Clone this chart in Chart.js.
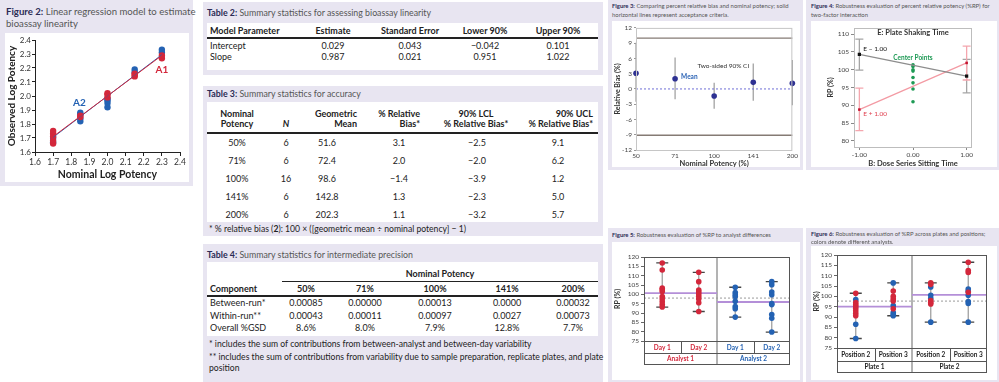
<!DOCTYPE html>
<html>
<head>
<meta charset="utf-8">
<title>Bioassay validation summary</title>
<script src="https://cdn.jsdelivr.net/npm/chart.js@4.4.1/dist/chart.umd.min.js"></script>
<style>
  body { margin: 0; width: 999px; height: 382px; position: relative; overflow: hidden; background: #fff; font-family: Lato, "Open Sans", sans-serif; color: #222; }
  .panel { position: absolute; background: #e8e5f1; }
  .box { position: absolute; background: #fff; }
  .t { position: absolute; white-space: nowrap; line-height: 1.15; }
  .rule { position: absolute; background: #222; }
  canvas { position: absolute; }
</style>
</head>
<body>
<div class="panel" style="left:0;top:0;width:193px;height:186px"></div>
<div class="box" style="left:5px;top:33px;width:184px;height:149px"></div>
<div class="panel" style="left:203px;top:2px;width:400px;height:73px"></div>
<div class="box" style="left:207px;top:23px;width:391px;height:47px"></div>
<div class="panel" style="left:203px;top:86px;width:400px;height:150px"></div>
<div class="box" style="left:207px;top:102px;width:391px;height:120px"></div>
<div class="panel" style="left:203px;top:244px;width:400px;height:138px"></div>
<div class="box" style="left:207px;top:262px;width:391px;height:74px"></div>
<div class="panel" style="left:608px;top:0;width:195px;height:170px"></div>
<div class="box" style="left:612px;top:21px;width:188px;height:146px"></div>
<div class="panel" style="left:806px;top:0;width:193px;height:170px"></div>
<div class="box" style="left:811px;top:21px;width:186px;height:146px"></div>
<div class="panel" style="left:608px;top:228px;width:195px;height:154px"></div>
<div class="box" style="left:612px;top:242px;width:188px;height:138px"></div>
<div class="panel" style="left:806px;top:228px;width:193px;height:154px"></div>
<div class="box" style="left:811px;top:246px;width:186px;height:134px"></div>

<div class="rule" style="left:207px;top:37px;width:391px;height:1.5px"></div>
<div class="rule" style="left:207px;top:132px;width:391px;height:1.5px"></div>
<div class="rule" style="left:282px;top:281px;width:316px;height:1px"></div>
<div class="rule" style="left:207px;top:295px;width:391px;height:1.5px"></div>

<canvas id="fig2" width="182" height="150" style="left:6px;top:33px"></canvas>
<canvas id="fig3" width="188" height="148" style="left:612px;top:22px"></canvas>
<canvas id="fig4" width="186" height="148" style="left:811px;top:22px"></canvas>
<canvas id="fig5" width="188" height="136" style="left:612px;top:244px"></canvas>
<canvas id="fig6" width="186" height="136" style="left:811px;top:244px"></canvas>

<script>
// ---- data ----
// Figure 2: observed vs nominal log potency, two analysts
const logPotency = [1.7, 1.85, 2.0, 2.15, 2.3];
const a1Obs = [[1.66, 1.68, 1.71, 1.73, 1.75], [1.85, 1.86], [1.99, 2.01, 2.02], [2.14, 2.15, 2.16], [2.27, 2.29]];
const a2Obs = [[1.67, 1.70], [1.82, 1.84, 1.87, 1.88], [1.92, 1.95, 1.97, 1.98], [2.17, 2.19], [2.31, 2.33]];
const fitX = [1.7, 2.3];
const a1Fit = [1.71, 2.29];
const a2Fit = [1.705, 2.295];

// Figure 3: relative bias by nominal potency
const potencyPct = ['50', '71', '100', '141', '200'];
const meanBias = [3.1, 2.0, -1.4, 1.3, 1.1];
const lclBias = [-2.5, -2.0, -3.9, -2.3, -3.2];
const uclBias = [9.1, 6.2, 1.2, 5.0, 5.7];
const acceptHi = 10;
const acceptLo = -9.1;
const biasTicks = [-12, -9, -6, -3, 0, 3, 6, 9, 12];

// Figure 4: two-factor interaction
const doseLevels = [-1, 1];
const doseTicks = [-1, 0, 1];
const eMinusRP = [104.3, 98.2];
const eMinusLo = [99.9, 93.5];
const eMinusHi = [108.6, 102.9];
const ePlusRP = [88.8, 101.9];
const ePlusLo = [82.9, 97.1];
const ePlusHi = [94.8, 106.6];
const centerRP = [101.4, 100.9, 100.0, 99.6, 97.8, 96.3, 94.6, 91.0];
const rpTicks4 = [80, 85, 90, 95, 100, 105, 110];

// Figure 5: analyst / day
const f5Days = ['Day 1', 'Day 2', 'Day 1', 'Day 2'];
const f5Analysts = ['Analyst 1', 'Analyst 2'];
const f5Red = [[116.8, 113.0, 103.3, 102.5, 101.5, 98.8, 97.5, 96.0, 94.5, 93.2],
               [111.8, 106.8, 102.3, 101.3, 100.2, 99.0, 97.5, 95.5, 90.8], [], []];
const f5Blue = [[], [], [103.8, 101.0, 99.8, 98.8, 96.3, 93.5, 92.3, 87.8],
                [106.8, 105.2, 101.2, 99.8, 95.0, 94.5, 89.2, 87.2, 79.8]];
const f5Means = [100.6, 95.9];
const f5Overall = 98.0;

// Figure 6: plate / position
const f6Positions = ['Position 2', 'Position 3', 'Position 2', 'Position 3'];
const f6Plates = ['Plate 1', 'Plate 2'];
const f6Red = [[101.5, 97.0, 96.0, 95.2, 94.2, 93.0, 91.8, 90.6], [102.6, 100.0, 98.8, 97.8, 94.0],
               [106.5, 105.8, 98.0, 97.0, 96.3], [116.5, 112.5, 111.5, 102.0]];
const f6Blue = [[98.5, 86.5, 79.6], [106.5, 95.5, 92.2, 91.2, 90.6],
                [104.5, 100.5, 99.0, 87.5], [103.5, 102.5, 100.5, 97.5, 96.5, 87.5]];
const f6Means = [95.0, 100.7];
const f6Overall = 97.7;
const rpTicks = [75, 80, 85, 90, 95, 100, 105, 110, 115, 120];

// Tables
const t2Head = ['Model Parameter', 'Estimate', 'Standard Error', 'Lower 90%', 'Upper 90%'];
const t2Rows = [['Intercept', '0.029', '0.043', '\u22120.042', '0.101'],
                ['Slope', '0.987', '0.021', '0.951', '1.022']];
const t3Head = ['Nominal<br>Potency', '<br><i>N</i>', 'Geometric<br>Mean', '% Relative<br>Bias*', '90% LCL<br>% Relative Bias*', '90% UCL<br>% Relative Bias*'];
const t3Rows = [['50%', '6', '51.6', '3.1', '\u22122.5', '9.1'],
                ['71%', '6', '72.4', '2.0', '\u22122.0', '6.2'],
                ['100%', '16', '98.6', '\u22121.4', '\u22123.9', '1.2'],
                ['141%', '6', '142.8', '1.3', '\u22122.3', '5.0'],
                ['200%', '6', '202.3', '1.1', '\u22123.2', '5.7']];
const t4Head = ['Component', '50%', '71%', '100%', '141%', '200%'];
const t4Rows = [['Between-run*', '0.00085', '0.00000', '0.00013', '0.0000', '0.00032'],
                ['Within-run**', '0.00043', '0.00011', '0.00097', '0.0027', '0.00073'],
                ['Overall %GSD', '8.6%', '8.0%', '7.9%', '12.8%', '7.7%']];

const RED = '#d3273b';
const BLUE = '#2462b3';

// ---- text helper ----
function put(x, y, html, size, opt = {}) {
  const d = document.createElement('div');
  d.className = 't';
  d.innerHTML = html;
  d.style.left = x + 'px';
  d.style.top = y + 'px';
  d.style.fontSize = size + 'px';
  if (opt.bold) d.style.fontWeight = 'bold';
  d.style.color = opt.color || '#222';
  if (opt.ta) d.style.textAlign = opt.ta;
  const tx = opt.align === 'c' ? '-50%' : opt.align === 'r' ? '-100%' : '0';
  d.style.transform = 'translate(' + tx + ', -50%)';
  document.body.appendChild(d);
}
const lab = s => '<b style="color:#2b2b55">' + s + '</b> ';

// titles
put(6, 12, lab('Figure 2:') + 'Linear regression model to estimate', 9.6, { color: '#555' });
put(6, 23.5, 'bioassay linearity', 9.6, { color: '#555' });
put(207, 13, lab('Table 2:') + 'Summary statistics for assessing bioassay linearity', 8.8, { color: '#555' });
put(207, 94, lab('Table 3:') + 'Summary statistics for accuracy', 8.8, { color: '#555' });
put(207, 255, lab('Table 4:') + 'Summary statistics for intermediate precision', 8.8, { color: '#555' });
put(612, 6, lab('Figure 3:') + 'Comparing percent relative bias and nominal potency; solid', 5.9, { color: '#555' });
put(612, 14.5, 'horizontal lines represent acceptance criteria.', 5.9, { color: '#555' });
put(811, 6, lab('Figure 4:') + 'Robustness evaluation of percent relative potency (%RP) for', 5.9, { color: '#555' });
put(811, 14.5, 'two-factor interaction', 5.9, { color: '#555' });
put(612, 234.5, lab('Figure 5:') + 'Robustness evaluation of %RP to analyst differences', 5.9, { color: '#555' });
put(811, 234, lab('Figure 6:') + 'Robustness evaluation of %RP across plates and positions;', 5.9, { color: '#555' });
put(811, 242, 'colors denote different analysts.', 5.9, { color: '#555' });

// table 2
const t2X = [210, 333, 410, 485, 558];
t2Head.forEach((h, i) => put(t2X[i], 31, h, 9, { bold: true, align: i ? 'c' : 'l' }));
t2Rows.forEach((r, j) => r.forEach((v, i) => put(t2X[i], 46 + j * 10.5, v, 9, { align: i ? 'c' : 'l' })));

// table 3
const t3X = [237, 286, 357, 420, 476, 593];
const t3A = ['c', 'c', 'r', 'r', 'c', 'r'];
const t3V = [237, 286, 327, 399, 477, 558];
t3Head.forEach((h, i) => put(t3X[i], 119, h, 9, { bold: true, align: t3A[i], ta: t3A[i] === 'r' ? 'right' : 'center' }));
t3Rows.forEach((r, j) => r.forEach((v, i) => put(t3V[i], 143 + j * 18, v, 9, { align: 'c' })));
put(209, 229.5, '* % relative bias (<b>2</b>): 100 \u00d7 ([geometric mean \u00f7 nominal potency] \u2212 1)', 8.6);

// table 4
const t4X = [210, 306, 365, 435, 507, 573];
put(440, 274, 'Nominal Potency', 9, { bold: true, align: 'c' });
t4Head.forEach((h, i) => put(t4X[i], 289, h, 9, { bold: true, align: i ? 'c' : 'l' }));
t4Rows.forEach((r, j) => r.forEach((v, i) => put(t4X[i], 303 + j * 12.5, v, 9, { align: i ? 'c' : 'l' })));
put(209, 345, '* includes the sum of contributions from between-analyst and between-day variability', 8.6);
put(209, 358, '** includes the sum of contributions from variability due to sample preparation, replicate plates, and plate', 8.6);
put(209, 369, 'position', 8.6);

// ---- charts ----
Chart.defaults.font.family = 'Lato, sans-serif';
Chart.defaults.color = '#333';
Chart.defaults.animation = false;
Chart.defaults.responsive = false;
Chart.defaults.devicePixelRatio = 1;
Chart.defaults.plugins.legend.display = false;
Chart.defaults.plugins.tooltip.enabled = false;

const toPoints = (xs, ys) => xs.flatMap((x, i) => ys[i].map(y => ({ x, y })));
const setTicks = vals => s => { s.ticks = vals.map(v => ({ value: v })); };

function label(chart, x, y, text, font, color, align) {
  const ctx = chart.ctx;
  ctx.save();
  ctx.font = font;
  ctx.fillStyle = color;
  ctx.textAlign = align || 'center';
  ctx.textBaseline = 'middle';
  ctx.fillText(text, x, y);
  ctx.restore();
}

function errBar(chart, x, lo, hi, color, cap) {
  const ctx = chart.ctx, ys = chart.scales.y;
  const y1 = ys.getPixelForValue(lo), y2 = ys.getPixelForValue(hi);
  ctx.save();
  ctx.strokeStyle = color;
  ctx.lineWidth = 1.3;
  ctx.beginPath();
  ctx.moveTo(x, y1); ctx.lineTo(x, y2);
  if (cap) {
    ctx.moveTo(x - cap, y1); ctx.lineTo(x + cap, y1);
    ctx.moveTo(x - cap, y2); ctx.lineTo(x + cap, y2);
  }
  ctx.stroke();
  ctx.restore();
}

function frame(color) {
  return {
    id: 'frame',
    afterDatasetsDraw(chart) {
      const a = chart.chartArea, ctx = chart.ctx;
      ctx.save();
      ctx.strokeStyle = color;
      ctx.lineWidth = 1;
      ctx.strokeRect(a.left + 0.5, a.top + 0.5, a.right - a.left - 1, a.bottom - a.top);
      ctx.restore();
    }
  };
}

// Figure 2
new Chart(document.getElementById('fig2'), {
  type: 'scatter',
  data: {
    datasets: [
      { type: 'line', data: fitX.map((x, i) => ({ x, y: a1Fit[i] })), borderColor: RED, borderWidth: 1, pointRadius: 0 },
      { type: 'line', data: fitX.map((x, i) => ({ x, y: a2Fit[i] })), borderColor: BLUE, borderWidth: 1, pointRadius: 0 },
      { data: toPoints(logPotency, a1Obs), backgroundColor: RED, borderWidth: 0, pointRadius: 3.2 },
      { data: toPoints(logPotency, a2Obs), backgroundColor: BLUE, borderWidth: 0, pointRadius: 3.2 }
    ]
  },
  options: {
    layout: { padding: { left: 0, right: 8, top: 7, bottom: 0 } },
    scales: {
      x: {
        type: 'linear', min: 1.6, max: 2.4,
        afterFit: s => { s.height = 31; },
        ticks: { stepSize: 0.1, callback: v => v.toFixed(1), font: { size: 8.5 }, color: '#333', padding: 1, maxRotation: 0, autoSkip: false },
        grid: { drawOnChartArea: false, color: '#222', tickLength: 4 },
        border: { color: '#222' },
        title: { display: true, text: 'Nominal Log Potency', font: { size: 10.5, weight: 'bold' }, color: '#222', padding: { top: 0, bottom: 2 } }
      },
      y: {
        min: 1.6, max: 2.4,
        afterFit: s => { s.width = 29; },
        ticks: { stepSize: 0.1, callback: v => v.toFixed(1), font: { size: 8 }, color: '#333', padding: 1, autoSkip: false },
        grid: { drawOnChartArea: false, color: '#222', tickLength: 3 },
        border: { color: '#222' },
        title: { display: true, text: 'Observed Log Potency', font: { size: 10, weight: 'bold' }, color: '#222', padding: { top: 0 } }
      }
    }
  },
  plugins: [{
    id: 'fig2labels',
    afterDatasetsDraw(chart) {
      const xs = chart.scales.x, ys = chart.scales.y;
      label(chart, xs.getPixelForValue(1.845), ys.getPixelForValue(1.95), 'A2', 'bold 10px Lato', BLUE);
      label(chart, xs.getPixelForValue(2.3), ys.getPixelForValue(2.185), 'A1', 'bold 10px Lato', RED);
    }
  }]
});

// Figure 3
new Chart(document.getElementById('fig3'), {
  type: 'line',
  data: {
    labels: potencyPct,
    datasets: [
      { data: meanBias, showLine: false, pointRadius: 2.8, pointBackgroundColor: '#2e3192', pointBorderWidth: 0 },
      { data: potencyPct.map(() => acceptHi), borderColor: '#857b74', borderWidth: 1.4, pointRadius: 0 },
      { data: potencyPct.map(() => acceptLo), borderColor: '#857b74', borderWidth: 1.4, pointRadius: 0 },
      { data: potencyPct.map(() => 0), borderColor: '#6f6fd6', borderWidth: 1, borderDash: [2, 2], pointRadius: 0 }
    ]
  },
  options: {
    layout: { padding: { left: 0, right: 6, top: 5, bottom: 0 } },
    scales: {
      x: {
        type: 'category', offset: false,
        afterFit: s => { s.height = 20; },
        ticks: { font: { size: 6.5 }, color: '#444', padding: 2, maxRotation: 0, autoSkip: false },
        grid: { display: false, drawTicks: false },
        border: { display: false },
        title: { display: true, text: 'Nominal Potency (%)', font: { size: 7.5, weight: 'bold' }, color: '#333', padding: { top: 0, bottom: 2 } }
      },
      y: {
        min: -12, max: 12,
        afterFit: s => { s.width = 24; },
        afterBuildTicks: setTicks(biasTicks),
        ticks: { font: { size: 6.5 }, color: '#444', padding: 2, autoSkip: false },
        grid: { drawOnChartArea: false, color: '#999', tickLength: 2 },
        border: { display: false },
        title: { display: true, text: 'Relative Bias (%)', font: { size: 7, weight: 'bold' }, color: '#333', padding: { top: 2 } }
      }
    }
  },
  plugins: [frame('#c6c6c6'), {
    id: 'fig3bars',
    beforeDatasetsDraw(chart) {
      const xs = chart.scales.x;
      potencyPct.forEach((p, i) => errBar(chart, xs.getPixelForValue(i), lclBias[i], uclBias[i], '#a3a3a3', 0));
    },
    afterDatasetsDraw(chart) {
      const xs = chart.scales.x, ys = chart.scales.y;
      label(chart, xs.getPixelForValue(1) + 6, ys.getPixelForValue(2.4), 'Mean', 'bold 6.5px Lato', '#2b63b5', 'left');
      label(chart, xs.getPixelForValue(3) - 4, ys.getPixelForValue(4.6), 'Two-sided 90% CI', '6.5px Lato', '#333', 'right');
    }
  }]
});

// Figure 4
new Chart(document.getElementById('fig4'), {
  type: 'scatter',
  data: {
    datasets: [
      { type: 'line', data: doseLevels.map((x, i) => ({ x, y: eMinusRP[i] })), borderColor: '#8d8d8d', borderWidth: 1.2,
        pointStyle: 'rect', pointRadius: 2.3, pointBackgroundColor: '#111', pointBorderWidth: 0 },
      { type: 'line', data: doseLevels.map((x, i) => ({ x, y: ePlusRP[i] })), borderColor: '#f39aa3', borderWidth: 1.2,
        pointStyle: 'rect', pointRadius: 1.8, pointBackgroundColor: '#c4122f', pointBorderWidth: 0 },
      { data: centerRP.map(y => ({ x: 0, y })), backgroundColor: '#1e9a55', borderWidth: 0, pointRadius: 1.8 }
    ]
  },
  options: {
    layout: { padding: { left: 0, right: 25, top: 6, bottom: 0 } },
    scales: {
      x: {
        type: 'linear', min: -1.1, max: 1.1,
        afterFit: s => { s.height = 23; },
        afterBuildTicks: setTicks(doseTicks),
        ticks: { callback: v => v.toFixed(2), font: { size: 6.5 }, color: '#444', padding: 1, maxRotation: 0, autoSkip: false },
        grid: { drawOnChartArea: false, color: '#888', tickLength: 3 },
        border: { display: false },
        title: { display: true, text: 'B: Dose Series Sitting Time', font: { size: 7.5, weight: 'bold' }, color: '#333', padding: { top: 0, bottom: 2 } }
      },
      y: {
        min: 78.3, max: 111.7,
        afterFit: s => { s.width = 43; },
        afterBuildTicks: setTicks(rpTicks4),
        ticks: { font: { size: 6.5 }, color: '#444', padding: 2, autoSkip: false },
        grid: { drawOnChartArea: false, color: '#888', tickLength: 3 },
        border: { display: false },
        title: { display: true, text: 'RP (%)', font: { size: 7, weight: 'bold' }, color: '#333', padding: { top: 16 } }
      }
    }
  },
  plugins: [frame('#bdbdbd'), {
    id: 'fig4bars',
    beforeDatasetsDraw(chart) {
      const xs = chart.scales.x;
      doseLevels.forEach((d, i) => {
        errBar(chart, xs.getPixelForValue(d), eMinusLo[i], eMinusHi[i], '#a5a5a5', 4);
        errBar(chart, xs.getPixelForValue(d), ePlusLo[i], ePlusHi[i], '#f4a6ae', 4);
      });
    },
    afterDatasetsDraw(chart) {
      const xs = chart.scales.x, ys = chart.scales.y;
      label(chart, xs.getPixelForValue(0), ys.getPixelForValue(110.4), 'E: Plate Shaking Time', 'bold 7.5px Lato', '#333');
      label(chart, xs.getPixelForValue(-1) + 4, ys.getPixelForValue(105.7), 'E \u2212 1.00', '6.5px Lato', '#111', 'left');
      label(chart, xs.getPixelForValue(-1) + 4, ys.getPixelForValue(87.6), 'E + 1.00', '6.5px Lato', '#e0404f', 'left');
      label(chart, xs.getPixelForValue(0), ys.getPixelForValue(103.2), 'Center Points', 'bold 6.5px Lato', '#1e9a55');
    }
  }]
});

// Figures 5 and 6: grouped dot plots with range bars and mean lines
function groupChart(id, red, blue, subLabels, subColors, topLabels, topColors, means, overall, dims) {
  const all = red.map((g, i) => g.concat(blue[i]));
  const toXY = groups => groups.flatMap((g, i) => g.map(y => ({ x: i + 0.5, y })));
  new Chart(document.getElementById(id), {
    type: 'scatter',
    data: {
      datasets: [
        { data: toXY(red), backgroundColor: RED, borderWidth: 0, pointRadius: 2.8 },
        { data: toXY(blue), backgroundColor: BLUE, borderWidth: 0, pointRadius: 2.8 },
        { type: 'line', data: [{ x: 0, y: means[0] }, { x: 2, y: means[0] }], borderColor: '#b48fd8', borderWidth: 1.8, pointRadius: 0 },
        { type: 'line', data: [{ x: 2, y: means[1] }, { x: 4, y: means[1] }], borderColor: '#b48fd8', borderWidth: 1.8, pointRadius: 0 },
        { type: 'line', data: [{ x: 0, y: overall }, { x: 4, y: overall }], borderColor: '#9a9a9a', borderWidth: 1, borderDash: [2, 2], pointRadius: 0 }
      ]
    },
    options: {
      layout: { padding: { left: 0, right: dims.right, top: dims.top, bottom: 0 } },
      scales: {
        x: {
          type: 'linear', min: 0, max: 4,
          afterFit: s => { s.height = dims.xh; },
          ticks: { display: false },
          grid: { display: false, drawTicks: false },
          border: { display: false }
        },
        y: {
          min: 75, max: 120,
          afterFit: s => { s.width = dims.yw; },
          afterBuildTicks: setTicks(rpTicks),
          ticks: { font: { size: 6.5 }, color: '#444', padding: 2, autoSkip: false },
          grid: { drawOnChartArea: false, color: '#666', tickLength: 3 },
          border: { display: false },
          title: { display: true, text: 'RP (%)', font: { size: 7, weight: 'bold' }, color: '#333', padding: { top: 2 } }
        }
      }
    },
    plugins: [{
      id: id + 'bars',
      beforeDatasetsDraw(chart) {
        const xs = chart.scales.x, a = chart.chartArea, ctx = chart.ctx;
        ctx.save();
        ctx.strokeStyle = '#a0a0a0';
        ctx.lineWidth = 1.6;
        ctx.beginPath();
        ctx.moveTo(xs.getPixelForValue(2), a.top);
        ctx.lineTo(xs.getPixelForValue(2), a.bottom + dims.r1 + dims.r2);
        ctx.stroke();
        ctx.restore();
        all.forEach((g, i) => {
          const x = xs.getPixelForValue(i + 0.5);
          errBar(chart, x, Math.min(...g), Math.max(...g), '#a0a0a0', 0);
          errBar(chart, x, Math.min(...g), Math.min(...g), '#444', 6);
          errBar(chart, x, Math.max(...g), Math.max(...g), '#444', 6);
        });
      },
      afterDraw(chart) {
        const xs = chart.scales.x, a = chart.chartArea, ctx = chart.ctx;
        const yA = a.bottom, yB = a.bottom + dims.r1, yC = yB + dims.r2;
        ctx.save();
        ctx.strokeStyle = '#555';
        ctx.lineWidth = 1;
        ctx.strokeRect(a.left + 0.5, a.top + 0.5, a.right - a.left - 1, a.bottom - a.top);
        ctx.beginPath();
        [yB, yC].forEach(y => { ctx.moveTo(a.left, Math.round(y) + 0.5); ctx.lineTo(a.right, Math.round(y) + 0.5); });
        [0, 1, 3, 4].forEach(v => {
          const x = Math.round(xs.getPixelForValue(v)) + (v === 4 ? -0.5 : 0.5);
          ctx.moveTo(x, yA); ctx.lineTo(x, v === 1 || v === 3 ? yB : yC);
        });
        ctx.stroke();
        ctx.restore();
        subLabels.forEach((s, i) => label(chart, xs.getPixelForValue(i + 0.5), (yA + yB) / 2 + 0.5, s, 'bold 6.5px Lato', subColors[i]));
        topLabels.forEach((s, i) => label(chart, xs.getPixelForValue(i * 2 + 1), (yB + yC) / 2 + 0.5, s, 'bold 6.5px Lato', topColors[i]));
      }
    }]
  });
}

groupChart('fig5', f5Red, f5Blue, f5Days, [RED, RED, BLUE, BLUE], f5Analysts, [RED, BLUE], f5Means, f5Overall,
  { yw: 32, right: 10, top: 13, xh: 39, r1: 12, r2: 11 });
groupChart('fig6', f6Red, f6Blue, f6Positions, ['#222', '#222', '#222', '#222'], f6Plates, ['#222', '#222'], f6Means, f6Overall,
  { yw: 26, right: 10, top: 11, xh: 32, r1: 13, r2: 11 });
</script>
</body>
</html>
